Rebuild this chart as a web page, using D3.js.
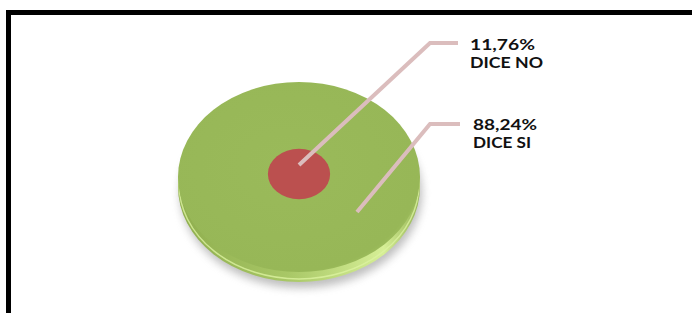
<!DOCTYPE html>
<html><head><meta charset="utf-8">
<script src="https://cdn.jsdelivr.net/npm/d3@7"></script>
<style>body{margin:0;background:#fff}svg{display:block}</style>
</head><body>
<svg id="c" width="692" height="313"></svg>
<script>
const categories = ["DICE NO", "DICE SI"];
const values = [11.76, 88.24];
const labels = ["11,76%", "88,24%"];
const colors = ["#bb504f", "#98b85a"];

const svg = d3.select("#c");
const W = 692, H = 313;

const defs = svg.append("defs");
const blur = defs.append("filter").attr("id","blur").attr("x","-20%").attr("y","-20%").attr("width","140%").attr("height","140%");
blur.append("feGaussianBlur").attr("stdDeviation", 4);
const sideG = defs.append("linearGradient").attr("id","side").attr("x1","0").attr("x2","1").attr("y1","0").attr("y2","0");
sideG.append("stop").attr("offset","0").attr("stop-color","#8fae4e");
sideG.append("stop").attr("offset","0.45").attr("stop-color","#a8c766");
sideG.append("stop").attr("offset","0.85").attr("stop-color","#d6ef96");
sideG.append("stop").attr("offset","1").attr("stop-color","#94b354");
const faceG = defs.append("radialGradient").attr("id","face").attr("cx","0.45").attr("cy","0.45").attr("r","0.6");
faceG.append("stop").attr("offset","0").attr("stop-color","#9aba5a");
faceG.append("stop").attr("offset","0.92").attr("stop-color","#97b757");
faceG.append("stop").attr("offset","1").attr("stop-color","#a2c260");

// frame
svg.append("path").attr("d", `M8.5,${H} L8.5,12.5 L${W},12.5`)
  .attr("fill","none").attr("stroke","#000").attr("stroke-width",5);

// pie geometry from data
const pie = d3.pie().sort(null).value(d => d)(values);
const cx = 299, cy = 177, rx = 121, ry = 95, depth = 10;
const rScale = d3.scaleSqrt().domain([0, 100]).range([0, rx * 0.75]);

// shadow
svg.append("ellipse").attr("cx", cx+2).attr("cy", cy+depth+6).attr("rx", rx).attr("ry", ry)
  .attr("fill", "#8a8a8a").attr("opacity", 0.55).attr("filter","url(#blur)");
// side
svg.append("ellipse").attr("cx", cx).attr("cy", cy+depth).attr("rx", rx).attr("ry", ry)
  .attr("fill", "url(#side)");
svg.append("ellipse").attr("cx", cx).attr("cy", cy+depth-3).attr("rx", rx-1).attr("ry", ry)
  .attr("fill", "none").attr("stroke","#dcf3a0").attr("stroke-width",1.5).attr("opacity",0.8);
// face
svg.append("ellipse").attr("cx", cx).attr("cy", cy).attr("rx", rx).attr("ry", ry)
  .attr("fill", "url(#face)");

// inner share
const inner = pie.filter(d => d.data < 50);
svg.selectAll("ellipse.inner").data(inner).join("ellipse").attr("class","inner")
  .attr("cx", cx).attr("cy", cy-3)
  .attr("rx", d => rScale(d.data))
  .attr("ry", d => rScale(d.data) * 0.81)
  .attr("fill", colors[0]);

// leader lines & labels
const anchors = [[299,165],[357,212]];
const elbows = [[430,43],[430,124]];
const ends = [[458,43],[460,124]];
const textPos = [[470,50],[473,130]];
const widthsTop = [65, 64];
const widthsBot = [73, 58];
const line = d3.line();
svg.selectAll("path.lead").data(values).join("path").attr("class","lead")
  .attr("d", (d,i) => line([anchors[i], elbows[i], ends[i]]))
  .attr("fill","none").attr("stroke","#dbbdbd").attr("stroke-width",4);

const tg = svg.selectAll("text.lab").data(values).join("text").attr("class","lab")
  .attr("x",(d,i)=>textPos[i][0]).attr("y",(d,i)=>textPos[i][1])
  .attr("font-family","Lato, 'Open Sans', sans-serif").attr("font-weight","bold")
  .attr("font-size","15.5px").attr("fill","#111");
tg.append("tspan").attr("textLength",(d,i)=>widthsTop[i]).attr("lengthAdjust","spacingAndGlyphs").text((d,i)=>labels[i]);
tg.append("tspan").attr("x",(d,i)=>textPos[i][0]).attr("dy",18)
  .attr("textLength",(d,i)=>widthsBot[i]).attr("lengthAdjust","spacingAndGlyphs").text((d,i)=>categories[i]);
</script>
</body></html>
